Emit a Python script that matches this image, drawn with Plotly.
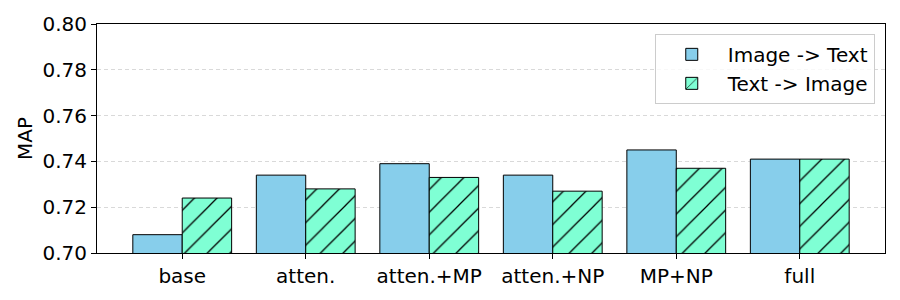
import plotly.graph_objects as go

categories = ["base", "atten.", "atten.+MP", "atten.+NP", "MP+NP", "full"]
img_to_text = [0.708, 0.734, 0.739, 0.734, 0.745, 0.741]
text_to_img = [0.724, 0.728, 0.733, 0.727, 0.737, 0.741]
y_ticks = [0.70, 0.72, 0.74, 0.76, 0.78, 0.80]
y_ticklabels = ["0.70", "0.72", "0.74", "0.76", "0.78", "0.80"]

FONT = "DejaVu Sans"
FS = 20

fig = go.Figure()
fig.add_trace(go.Bar(
    x=categories, y=img_to_text, name="Image -> Text",
    marker=dict(color="#87CEEB", line=dict(color="black", width=1)),
))
fig.add_trace(go.Bar(
    x=categories, y=text_to_img, name="Text -> Image",
    marker=dict(color="#7FFFD4", line=dict(color="black", width=1),
                pattern=dict(shape="/", fgcolor="black", bgcolor="#7FFFD4",
                             fgopacity=1, size=16, solidity=0.08,
                             fillmode="overlay")),
))

fig.update_layout(
    width=900, height=300,
    margin=dict(l=97, r=15, t=23, b=45),
    paper_bgcolor="white", plot_bgcolor="white",
    barmode="group", bargap=0.2, bargroupgap=0,
    font=dict(family=FONT, size=FS, color="black"),
    legend=dict(
        x=0.987, y=0.957, xanchor="right", yanchor="top",
        bgcolor="rgba(255,255,255,0.8)", bordercolor="#cccccc", borderwidth=1,
        font=dict(family=FONT, size=FS),
        tracegroupgap=0, itemwidth=62,
    ),
    showlegend=True,
)
fig.update_xaxes(
    type="category", range=[-0.69, 5.69],
    showline=True, linecolor="black", linewidth=1, mirror=True,
    ticks="outside", ticklen=5, tickcolor="black",
    showgrid=False, tickfont=dict(family=FONT, size=FS),
)
fig.update_yaxes(
    range=[0.70, 0.80], tickvals=y_ticks, ticktext=y_ticklabels,
    showline=True, linecolor="black", linewidth=1, mirror=True,
    ticks="outside", ticklen=5, tickcolor="black",
    showgrid=True, gridcolor="#d9d9d9", griddash="4px,3px", gridwidth=1,
    zeroline=False,
    title=dict(text="MAP", font=dict(family=FONT, size=FS), standoff=4),
    tickfont=dict(family=FONT, size=FS),
)

fig.write_html("out.html", config={"displayModeBar": False},
               post_script="document.body.style.margin='0';")
